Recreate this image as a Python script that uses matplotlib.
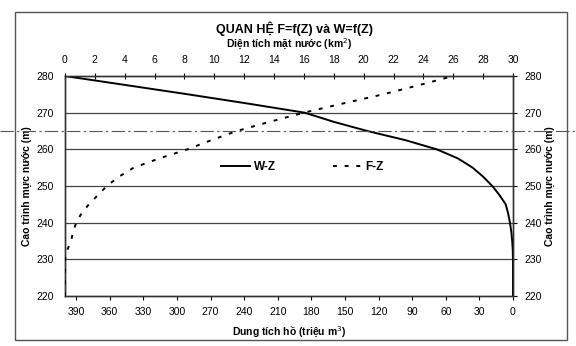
import matplotlib.pyplot as plt
from matplotlib.lines import Line2D
from matplotlib.patches import Rectangle

plt.rcParams['font.family'] = ['Liberation Sans', 'DejaVu Sans']

# Cao trình mực nước (m)
cao_trinh = [220, 225, 230, 232.5, 235, 237.5, 240, 242.5, 245, 247.5, 250,
             252.5, 255, 257.5, 260, 262.5, 265, 267.5, 270, 272.5, 275,
             277.5, 280]
# Dung tích hồ W (triệu m3)
dung_tich = [0, 0, 0, 0.2, 0.7, 1.5, 2.7, 4.3, 6.5, 12, 18.5,
             26.5, 36, 49, 68, 96, 130, 160, 186, 237, 290,
             345, 400]
# Diện tích mặt nước F (km2)
dien_tich = [0, 0, 0, 0.15, 0.4, 0.55, 0.75, 1.1, 1.6, 2.2, 2.8,
             3.6, 4.6, 6.3, 8.2, 9.8, 11.5, 13.7, 16.0, 18.6, 21.3,
             23.7, 26.0]

w_ticks = list(range(0, 391, 30))
f_ticks = list(range(0, 31, 2))
z_ticks = list(range(220, 281, 10))

fig = plt.figure(figsize=(5.76, 3.46), dpi=100)
ax = fig.add_axes([0.1128, 0.1445, 0.7778, 0.6358])

# Đường lưới ngang
for z in z_ticks[1:-1]:
    ax.axhline(z, color='#444444', lw=0.9, zorder=1)

ax.plot(dung_tich, cao_trinh, color='black', lw=1.4, zorder=3)
ax.set_xlim(400, 0)
ax.set_ylim(220, 280)
ax.set_xticks(w_ticks)
ax.set_yticks(z_ticks)
ax.tick_params(axis='x', direction='out', length=3, width=0.8, labelsize=7.5, pad=5)
ax.tick_params(axis='y', left=False, right=True, labelright=True, direction='out',
               length=3, width=0.8, labelsize=7.5, pad=5)
ax.set_xlabel('Dung tích hồ (triệu m$^3$)', fontsize=7.5, fontweight='bold', labelpad=6)
ax.set_ylabel('Cao trình mực nước (m)', fontsize=7.5, fontweight='bold', labelpad=3)
ax.text(1.083, 0.5, 'Cao trình mực nước (m)', transform=ax.transAxes, rotation=90,
        ha='center', va='center', fontsize=7.5, fontweight='bold')

# Trục phía trên cho diện tích mặt nước
axf = ax.twiny()
axf.plot(dien_tich, cao_trinh, color='black', lw=1.4, linestyle=(0, (2, 4)), zorder=3)
axf.set_xlim(0, 30)
axf.set_xticks(f_ticks)
axf.tick_params(axis='x', direction='inout', length=4, width=0.8, labelsize=7.5, pad=6)
axf.set_xlabel('Diện tích mặt nước (km$^2$)', fontsize=7.5, fontweight='bold', labelpad=5)

for a in (ax, axf):
    for s in a.spines.values():
        s.set_linewidth(1.0)
        s.set_color('#333333')

handles = [Line2D([], [], color='black', lw=1.4),
           Line2D([], [], color='black', lw=1.4, linestyle=(0, (2, 4)))]
ax.legend(handles, ['W-Z', 'F-Z'], ncol=2, frameon=False, loc='center',
          bbox_to_anchor=(0.53, 0.586), prop={'size': 8.5, 'weight': 'bold'},
          handlelength=2.5, handletextpad=0.3, columnspacing=4.8)

fig.text(0.512, 0.918, 'QUAN HỆ F=f(Z) và W=f(Z)', ha='center', va='center',
         fontsize=9, fontweight='bold')

# Khung bao ngoài và đường gạch chấm ngang trang
fig.add_artist(Rectangle((0.026, 0.0173), 0.958, 0.948, transform=fig.transFigure,
                         fill=False, edgecolor='#555555', lw=1.0))
fig.add_artist(Line2D([0, 1], [0.6214, 0.6214], transform=fig.transFigure,
                      color='#555555', lw=0.8, linestyle=(0, (12, 3, 2, 3))))

fig.savefig('out.png', dpi=100)
